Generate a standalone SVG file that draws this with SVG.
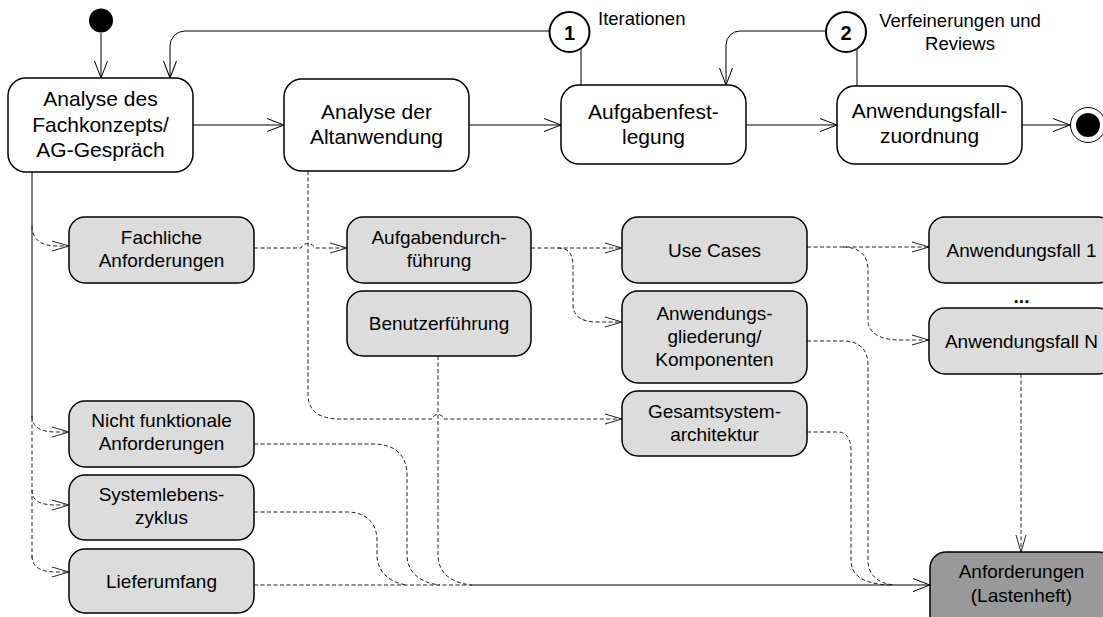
<svg xmlns="http://www.w3.org/2000/svg" width="1103" height="617" viewBox="0 0 1103 617">
<defs>
<style>
.n rect{stroke:#000;stroke-width:1.5}
.w rect{fill:#fff}
.g rect{fill:#dcdcdc}
.d rect{fill:#999}
text{font-family:"Liberation Sans",Arial,sans-serif;fill:#000}
.nt{font-size:21px;text-anchor:middle}
.gt{font-size:19px;text-anchor:middle}
.lb{font-size:18.5px}
.s{fill:none;stroke:#000;stroke-width:1}
.ds{fill:none;stroke:#222;stroke-width:1;stroke-dasharray:4,2.5}
</style>
<marker id="ah" markerUnits="userSpaceOnUse" markerWidth="20" markerHeight="16" refX="17" refY="6.5" orient="auto" overflow="visible"><path d="M0,0 L17,6.5 L0,13" fill="none" stroke="#000" stroke-width="1"/></marker>
<marker id="ahd" markerUnits="userSpaceOnUse" markerWidth="20" markerHeight="12" refX="17" refY="5" orient="auto" overflow="visible"><path d="M0,0 L17,5 L0,10" fill="none" stroke="#222" stroke-width="1"/></marker>
</defs>
<rect width="1103" height="617" fill="#fff"/>

<g id="connectors">
<path class="s" d="M101,33 L101,78" marker-end="url(#ah)"/>
<path class="s" d="M193,125 L284,125" marker-end="url(#ah)"/>
<path class="s" d="M469,125 L561,125" marker-end="url(#ah)"/>
<path class="s" d="M746,125 L837,125" marker-end="url(#ah)"/>
<path class="s" d="M1022,125 L1070,125" marker-end="url(#ah)"/>
<path class="s" d="M549,31 L185,31 A15,15 0 0 0 170,46 L170,78" marker-end="url(#ah)"/>
<path class="s" d="M581,49 L581,85"/>
<path class="s" d="M826,31 L740,31 A14,14 0 0 0 726,45 L726,85" marker-end="url(#ah)"/>
<path class="s" d="M857,49 L857,86"/>
<path class="s" d="M32,172 L32,418"/>
<path class="s" d="M470,585 L930,585" marker-end="url(#ah)"/>

<path class="ds" d="M32,418 L32,560"/>
<path class="ds" d="M32,226 C32,240 42,246 56,246 L69,246" marker-end="url(#ahd)"/>
<path class="ds" d="M32,416 C32,428 42,432 56,432 L69,432" marker-end="url(#ahd)"/>
<path class="ds" d="M32,490 C32,502 42,505 56,505 L69,505" marker-end="url(#ahd)"/>
<path class="ds" d="M32,556 C32,568 42,572 56,572 L69,572" marker-end="url(#ahd)"/>
<path class="ds" d="M254,248 L301,248 C304,242 312,242 315,248 L347,248" marker-end="url(#ahd)"/>
<path class="ds" d="M308,171 L308,395 C308,410 318,419 340,419 L432,419 C434,413 442,413 444,419 L622,419" marker-end="url(#ahd)"/>
<path class="ds" d="M531,248 L622,248" marker-end="url(#ahd)"/>
<path class="ds" d="M558,248 C570,248 573,256 573,266 L573,305 C573,316 582,322 596,322 L622,322" marker-end="url(#ahd)"/>
<path class="ds" d="M807,247 L929,247" marker-end="url(#ahd)"/>
<path class="ds" d="M843,247 C860,247 868,256 868,270 L868,320 C868,333 880,340 900,340 L929,340" marker-end="url(#ahd)"/>
<path class="ds" d="M807,341 L843,341 C860,341 868,350 868,365 L868,560 C868,575 878,584 895,585"/>
<path class="ds" d="M807,432 L838,432 C847,432 851,440 851,450 L851,560 C851,575 862,584 890,585"/>
<path class="ds" d="M1021,374 L1021,552" marker-end="url(#ahd)"/>
<path class="ds" d="M438,356 L438,555 C438,572 450,583 472,585"/>
<path class="ds" d="M254,444 L373,444 C395,444 407,455 407,475 L407,555 C407,572 420,583 440,585"/>
<path class="ds" d="M254,512 L347,512 C368,512 377,525 377,540 L377,555 C377,572 390,583 407,585"/>
<path class="ds" d="M254,585 L470,585"/>
</g>

<g id="start"><circle cx="101" cy="20.5" r="12" fill="#000"/></g>
<g id="end"><circle cx="1088" cy="125" r="17.5" fill="#fff" stroke="#000" stroke-width="1"/><circle cx="1088" cy="125" r="12" fill="#000"/></g>

<g id="marker1">
<circle cx="569.5" cy="32" r="20" fill="#fff" stroke="#000" stroke-width="2"/>
<text x="569.5" y="39.5" font-size="20" font-weight="bold" text-anchor="middle">1</text>
<text class="lb" x="598" y="25">Iterationen</text>
</g>
<g id="marker2">
<circle cx="846" cy="32" r="20" fill="#fff" stroke="#000" stroke-width="2"/>
<text x="846" y="39.5" font-size="20" font-weight="bold" text-anchor="middle">2</text>
<text class="lb" x="960" y="26.5" text-anchor="middle">Verfeinerungen und</text>
<text class="lb" x="960" y="50" text-anchor="middle">Reviews</text>
</g>

<g id="n-fachkonzept" class="n w"><rect x="8" y="78" width="185" height="94" rx="18"/>
<text class="nt" x="100.5" y="106">Analyse des</text><text class="nt" x="100.5" y="131.5">Fachkonzepts/</text><text class="nt" x="100.5" y="157">AG-Gespräch</text></g>
<g id="n-altanwendung" class="n w"><rect x="284" y="79" width="185" height="92" rx="18"/>
<text class="nt" x="376.5" y="118.5">Analyse der</text><text class="nt" x="376.5" y="144">Altanwendung</text></g>
<g id="n-aufgabenfestlegung" class="n w"><rect x="561" y="85" width="185" height="79" rx="18"/>
<text class="nt" x="653.5" y="119">Aufgabenfest-</text><text class="nt" x="653.5" y="144">legung</text></g>
<g id="n-zuordnung" class="n w"><rect x="837" y="86" width="185" height="78" rx="18"/>
<text class="nt" x="929.5" y="118">Anwendungsfall-</text><text class="nt" x="929.5" y="143">zuordnung</text></g>

<g id="n-fachliche" class="n g"><rect x="69" y="217" width="185" height="66" rx="16"/>
<text class="gt" x="161.5" y="244">Fachliche</text><text class="gt" x="161.5" y="267">Anforderungen</text></g>
<g id="n-aufgabendurchfuehrung" class="n g"><rect x="347" y="217" width="184" height="66" rx="16"/>
<text class="gt" x="439" y="244">Aufgabendurch-</text><text class="gt" x="439" y="267">führung</text></g>
<g id="n-benutzerfuehrung" class="n g"><rect x="347" y="291" width="184" height="65" rx="16"/>
<text class="gt" x="439" y="330">Benutzerführung</text></g>
<g id="n-usecases" class="n g"><rect x="622" y="217" width="185" height="66" rx="16"/>
<text class="gt" x="714.5" y="257">Use Cases</text></g>
<g id="n-gliederung" class="n g"><rect x="622" y="291" width="185" height="92" rx="16"/>
<text class="gt" x="714.5" y="320">Anwendungs-</text><text class="gt" x="714.5" y="343">gliederung/</text><text class="gt" x="714.5" y="366">Komponenten</text></g>
<g id="n-gesamtsystem" class="n g"><rect x="622" y="391" width="185" height="65" rx="16"/>
<text class="gt" x="714.5" y="418">Gesamtsystem-</text><text class="gt" x="714.5" y="441">architektur</text></g>
<g id="n-af1" class="n g"><rect x="929" y="217" width="185" height="66" rx="16"/>
<text class="gt" x="1021.5" y="257">Anwendungsfall 1</text></g>
<g id="dots"><text x="1021.5" y="303" font-size="19" font-weight="bold" text-anchor="middle">...</text></g>
<g id="n-afn" class="n g"><rect x="929" y="308" width="185" height="66" rx="16"/>
<text class="gt" x="1021.5" y="348">Anwendungsfall N</text></g>
<g id="n-nichtfunktional" class="n g"><rect x="69" y="401" width="185" height="66" rx="16"/>
<text class="gt" x="161.5" y="427">Nicht funktionale</text><text class="gt" x="161.5" y="450">Anforderungen</text></g>
<g id="n-systemlebenszyklus" class="n g"><rect x="69" y="475" width="185" height="65" rx="16"/>
<text class="gt" x="161.5" y="501">Systemlebens-</text><text class="gt" x="161.5" y="524">zyklus</text></g>
<g id="n-lieferumfang" class="n g"><rect x="69" y="549" width="185" height="64" rx="16"/>
<text class="gt" x="161.5" y="588">Lieferumfang</text></g>
<g id="n-lastenheft" class="n d"><rect x="930" y="552" width="185" height="80" rx="16"/>
<text class="gt" x="1021.5" y="578">Anforderungen</text><text class="gt" x="1021.5" y="602">(Lastenheft)</text></g>
</svg>
